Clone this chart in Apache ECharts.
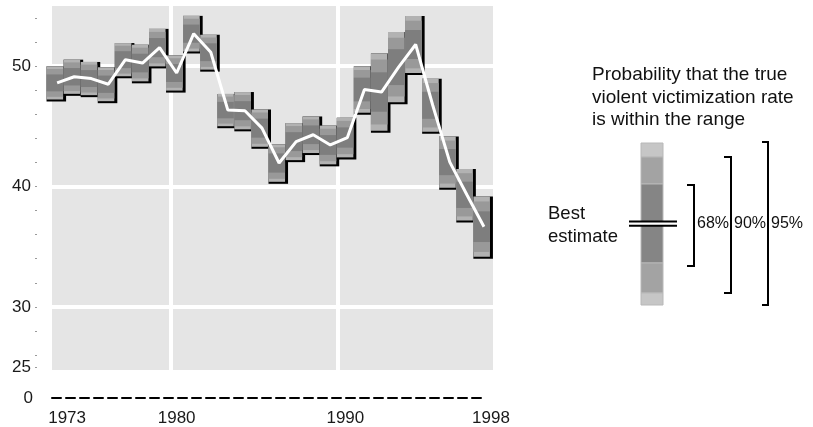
<!DOCTYPE html>
<html>
<head>
<meta charset="utf-8">
<script src="https://cdn.jsdelivr.net/npm/echarts@6/dist/echarts.min.js"></script>
<style>
html, body { margin: 0; padding: 0; background: #fff; }
#chart { width: 813px; height: 427px; }
</style>
</head>
<body>
<div id="chart"></div>
<script>
// violent victimization rate, best estimate per year
const years = [1973, 1974, 1975, 1976, 1977, 1978, 1979, 1980, 1981, 1982, 1983, 1984, 1985,
  1986, 1987, 1988, 1989, 1990, 1991, 1992, 1993, 1994, 1995, 1996, 1997, 1998]
const estimates = [48.61, 49.12, 48.97, 48.5, 50.54, 50.26, 51.54, 49.43, 52.7, 51.16, 46.35, 46.3, 44.85,
  41.95, 43.73, 44.3, 43.45, 44.07, 48.06, 47.85, 49.92, 51.8, 46.75, 42.03, 39.31, 36.66]
// half width of the 95% range around the estimate
const margins95 = [1.38, 1.42, 1.38, 1.41, 1.38, 1.52, 1.56, 1.46, 1.48, 1.45, 1.34, 1.55, 1.55,
  1.56, 1.54, 1.52, 1.61, 1.65, 1.93, 3.21, 2.92, 2.36, 2.2, 2.13, 2.14, 2.5]

const yLabelValues = [25, 30, 40, 50]
const yTickValues = [25, 26, 28, 30, 32, 34, 36, 38, 40, 42, 44, 46, 48, 50, 52, 54]
const xLabelYears = [1973, 1980, 1990, 1998]
const panelRates = [30, 40, 50] // white separators
const panelYears = [1979.64, 1989.45]
const legendPercents = ['68%', '90%', '95%']

const FONT = "'Liberation Sans', Arial, sans-serif"
const r90 = 1.645 / 1.96
const r68 = 1 / 1.96

const chart = echarts.init(document.getElementById('chart'))

function renderBar(params, api) {
  const year = api.value(0)
  const est = api.value(1)
  const m = api.value(2)
  const left = api.coord([year - 0.62, est])[0]
  const right = api.coord([year + 0.35, est])[0]
  const yAt = (v) => api.coord([year, v])[1]
  const band = (k, color) => ({
    type: 'rect',
    shape: { x: left, y: yAt(est + m * k), width: right - left, height: yAt(est - m * k) - yAt(est + m * k) },
    style: { fill: color },
  })
  const top = yAt(est + m)
  const bottom = yAt(est - m)
  return {
    type: 'group',
    children: [
      // dark edge on the right and bottom
      { type: 'rect', shape: { x: left, y: top, width: right - left + 3, height: bottom - top + 2 }, style: { fill: '#000' } },
      band(1, '#b2b2b2'),
      band(r90, '#999999'),
      band(r68, '#7e7e7e'),
    ],
  }
}

// legend key on the right
const keyX = 641
const keyW = 22
const keyBands = [
  [143, 157, '#c6c6c6'],
  [157, 184, '#a3a3a3'],
  [184, 263, '#858585'],
  [263, 293, '#a3a3a3'],
  [293, 305, '#c6c6c6'],
]
const brackets = [
  [687, 694, 185, 266],
  [724, 731, 157, 293],
  [762, 768, 142, 305],
]
const legendEls = []
keyBands.forEach((b) => {
  legendEls.push({
    type: 'rect',
    shape: { x: keyX, y: b[0], width: keyW, height: b[1] - b[0] },
    style: { fill: b[2], stroke: '#b8b8b8', lineWidth: 1 },
  })
})
legendEls.push({ type: 'rect', shape: { x: 629, y: 222, width: 48, height: 3 }, style: { fill: '#fff' } })
legendEls.push({ type: 'line', shape: { x1: 629, y1: 221.5, x2: 677, y2: 221.5 }, style: { stroke: '#000', lineWidth: 2 } })
legendEls.push({ type: 'line', shape: { x1: 629, y1: 225.8, x2: 677, y2: 225.8 }, style: { stroke: '#000', lineWidth: 2 } })
brackets.forEach((b, i) => {
  legendEls.push({
    type: 'polyline',
    shape: { points: [[b[0], b[2]], [b[1], b[2]], [b[1], b[3]], [b[0], b[3]]] },
    style: { stroke: '#000', lineWidth: 2, fill: null },
  })
  legendEls.push({
    type: 'text',
    x: b[1] + 3,
    y: 224,
    style: { text: legendPercents[i], font: '16px ' + FONT, fill: '#111', verticalAlign: 'middle' },
  })
})
legendEls.push({
  type: 'text',
  x: 592,
  y: 64,
  style: {
    text: 'Probability that the true\nviolent victimization rate\nis within the range',
    font: '19px ' + FONT, lineHeight: 22.5, fill: '#111', verticalAlign: 'top',
  },
})
legendEls.push({
  type: 'text',
  x: 548,
  y: 202,
  style: { text: 'Best\nestimate', font: '18.5px ' + FONT, lineHeight: 23, fill: '#111', verticalAlign: 'top' },
})

const yearRich = {
  y1973: { padding: [0, 0, 0, 20] },
  y1980: { padding: [0, 0, 0, 0] },
  y1990: { padding: [0, 4, 0, 0] },
  y1998: { padding: [0, 0, 0, 14] },
}
Object.keys(yearRich).forEach((k) => {
  Object.assign(yearRich[k], { fontSize: 17, fontFamily: FONT, color: '#1a1a1a' })
})

const option = {
  animation: false,
  grid: [
    { left: 52, right: 320, top: 6, bottom: 55, show: true, backgroundColor: '#e5e5e5', borderWidth: 0 },
    { left: 52, width: 431, top: 388, height: 10 },
  ],
  xAxis: [
    {
      type: 'value',
      gridIndex: 0,
      min: 1972.7,
      max: 1998.53,
      axisLine: { show: false },
      axisTick: { show: false },
      splitLine: { show: false },
      axisLabel: {
        customValues: xLabelYears,
        margin: 40,
        formatter: (v) => '{y' + v + '|' + v + '}',
        rich: yearRich,
      },
    },
    {
      type: 'value',
      gridIndex: 1,
      min: 0,
      max: 1,
      axisLine: { show: true, lineStyle: { color: '#000', width: 2, type: [9, 5] } },
      axisTick: { show: false },
      axisLabel: { show: false },
      splitLine: { show: false },
    },
  ],
  yAxis: [
    {
      type: 'value',
      gridIndex: 0,
      min: 24.75,
      max: 55,
      offset: 15,
      axisLine: { show: false },
      axisTick: { show: true, length: 2, customValues: yTickValues, lineStyle: { color: '#999', width: 1 } },
      axisLabel: { customValues: yLabelValues, margin: 6, color: '#1a1a1a', fontSize: 17, fontFamily: FONT },
      splitLine: { show: false },
    },
    {
      type: 'value',
      gridIndex: 1,
      min: 0,
      max: 1,
      interval: 1,
      offset: 15,
      axisLine: { show: false },
      axisTick: { show: false },
      splitLine: { show: false },
      axisLabel: {
        formatter: (v) => (v === 0 ? '0' : ''),
        margin: 4,
        padding: [4, 0, 0, 0],
        color: '#1a1a1a',
        fontSize: 17,
        fontFamily: FONT,
      },
    },
  ],
  series: [
    {
      type: 'custom',
      xAxisIndex: 0,
      yAxisIndex: 0,
      z: 3,
      silent: true,
      clip: false,
      renderItem: renderBar,
      encode: { x: 0, y: 1 },
      data: years.map((y, i) => [y, estimates[i], margins95[i]]),
      markLine: {
        silent: true,
        z: 1,
        symbol: 'none',
        label: { show: false },
        emphasis: { disabled: true },
        lineStyle: { color: '#fff', width: 4, type: 'solid' },
        data: panelRates.map((v) => ({ yAxis: v })).concat(panelYears.map((v) => ({ xAxis: v }))),
      },
    },
    {
      type: 'line',
      xAxisIndex: 0,
      yAxisIndex: 0,
      z: 4,
      silent: true,
      symbol: 'none',
      lineStyle: { color: '#fff', width: 3 },
      data: years.map((y, i) => [y, estimates[i]]),
    },
  ],
  graphic: { elements: legendEls },
}

chart.setOption(option)
</script>
</body>
</html>
